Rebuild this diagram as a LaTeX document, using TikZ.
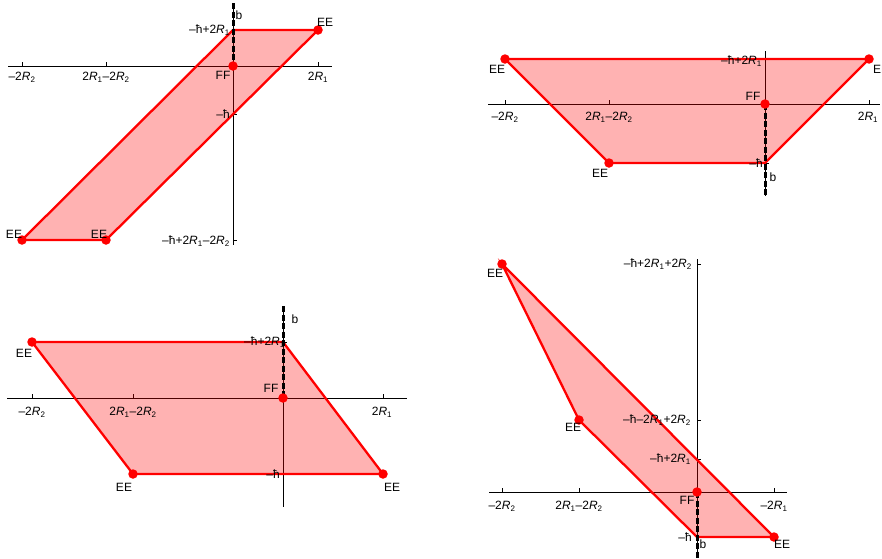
\documentclass[tikz,border=0pt]{standalone}
\usepackage{fontspec}
\setmainfont{Liberation Sans}
\usetikzlibrary{positioning}
\definecolor{clrEdge}{RGB}{255,0,0}
\newcommand{\rOne}{\textit{R}\textsubscript{1}}
\newcommand{\rTwo}{\textit{R}\textsubscript{2}}
\tikzset{
  axis/.style={line width=0.7pt,black},
  tickmark/.style={line width=0.6pt,black},
  region/.style={draw=clrEdge,line width=2.3pt,fill=clrEdge,fill opacity=0.3,line join=miter},
  bline/.style={line width=3pt,black,dash pattern=on 6pt off 2.5pt},
  vertex/.style={circle,fill=clrEdge,inner sep=0pt,minimum size=9.5pt},
  lbl/.style={font=\fontsize{12}{14}\selectfont,inner sep=0pt}
}
\begin{document}
\begin{tikzpicture}[x=1pt,y=-1pt]
  \useasboundingbox (0,0) rectangle (882,558);
  % panel 1 (top left)
  \coordinate (p1o) at (233,66);
  \coordinate (p1a) at (233,30);
  \coordinate (p1b) at (318,30);
  \coordinate (p1c) at (106,240);
  \coordinate (p1d) at (22,240);
  \coordinate (p1top) at (233,3);
  \draw[axis] (8,66) -- (332,66);
  \draw[axis] (p1top) -- (233,245);
  \foreach \x in {22,106,318} \draw[tickmark] (\x,66) -- ++(0,-4);
  \foreach \y in {30,114,240} \draw[tickmark] (233,\y) -- ++(4,0);
  \path[region] (p1a) -- (p1b) -- (p1c) -- (p1d) -- cycle;
  \draw[bline] (p1top) -- (p1o);
  \node[vertex] (p1ff) at (p1o) {};
  \node[vertex] (p1ee1) at (p1b) {};
  \node[vertex] (p1ee2) at (p1c) {};
  \node[vertex] (p1ee3) at (p1d) {};
  \node[lbl] (p1x1) at (22,77) {–2\rTwo};
  \node[lbl] (p1x2) at (106,77) {2\rOne–2\rTwo};
  \node[lbl] (p1x3) at (318,77) {2\rOne};
  \node[lbl,anchor=east] (p1y1) at (230,30) {–ħ+2\rOne};
  \node[lbl,anchor=east] (p1y2) at (230,114) {–ħ};
  \node[lbl,anchor=east] (p1y3) at (230,241) {–ħ+2\rOne–2\rTwo};
  \node[lbl] (p1l1) at (325,22) {EE};
  \node[lbl] (p1l2) at (99,234) {EE};
  \node[lbl] (p1l3) at (14,234) {EE};
  \node[lbl] (p1l4) at (223,75) {FF};
  \node[lbl] (p1l5) at (239,15) {b};
  % panel 2 (top right)
  \coordinate (p2o) at (765,104);
  \coordinate (p2a) at (505,59);
  \coordinate (p2b) at (869,59);
  \coordinate (p2c) at (765,163);
  \coordinate (p2d) at (609,163);
  \coordinate (p2bot) at (765,196);
  \draw[axis] (488,104) -- (880,104);
  \draw[axis] (765,51) -- (p2bot);
  \foreach \x in {505,609,869} \draw[tickmark] (\x,104) -- ++(0,-4);
  \foreach \y in {59,163} \draw[tickmark] (765,\y) -- ++(4,0);
  \path[region] (p2a) -- (p2b) -- (p2c) -- (p2d) -- cycle;
  \draw[bline] (p2o) -- (p2bot);
  \node[vertex] (p2ff) at (p2o) {};
  \node[vertex] (p2ee1) at (p2a) {};
  \node[vertex] (p2ee2) at (p2b) {};
  \node[vertex] (p2ee3) at (p2d) {};
  \node[lbl] (p2x1) at (505,117) {–2\rTwo};
  \node[lbl] (p2x2) at (609,117) {2\rOne–2\rTwo};
  \node[lbl] (p2x3) at (868,117) {2\rOne};
  \node[lbl,anchor=east] (p2y1) at (762,61) {–ħ+2\rOne};
  \node[lbl,anchor=east] (p2y2) at (763,163) {–ħ};
  \node[lbl] (p2l1) at (497,69) {EE};
  \node[lbl] (p2l2) at (881,69) {EE};
  \node[lbl] (p2l3) at (600,173) {EE};
  \node[lbl] (p2l4) at (753,96) {FF};
  \node[lbl] (p2l5) at (773,177) {b};
  % panel 3 (bottom left)
  \coordinate (p3o) at (283,398);
  \coordinate (p3a) at (32,342);
  \coordinate (p3b) at (283,342);
  \coordinate (p3c) at (383,474);
  \coordinate (p3d) at (133,474);
  \coordinate (p3top) at (283,306);
  \draw[axis] (7,398) -- (407,398);
  \draw[axis] (p3top) -- (283,507);
  \foreach \x in {32,133,383} \draw[tickmark] (\x,398) -- ++(0,-4);
  \foreach \y in {342,474} \draw[tickmark] (283,\y) -- ++(4,0);
  \path[region] (p3a) -- (p3b) -- (p3c) -- (p3d) -- cycle;
  \draw[bline] (p3top) -- (p3o);
  \node[vertex] (p3ff) at (p3o) {};
  \node[vertex] (p3ee1) at (p3a) {};
  \node[vertex] (p3ee2) at (p3c) {};
  \node[vertex] (p3ee3) at (p3d) {};
  \node[lbl] (p3x1) at (32,412) {–2\rTwo};
  \node[lbl] (p3x2) at (133,412) {2\rOne–2\rTwo};
  \node[lbl] (p3x3) at (382,412) {2\rOne};
  \node[lbl,anchor=east] (p3y1) at (285,342) {–ħ+2\rOne};
  \node[lbl,anchor=east] (p3y2) at (280,474) {–ħ};
  \node[lbl] (p3l1) at (24,353) {EE};
  \node[lbl] (p3l2) at (124,487) {EE};
  \node[lbl] (p3l3) at (392,487) {EE};
  \node[lbl] (p3l4) at (271,388) {FF};
  \node[lbl] (p3l5) at (295,319) {b};
  % panel 4 (bottom right)
  \coordinate (p4o) at (697,492);
  \coordinate (p4a) at (502,264);
  \coordinate (p4b) at (579,420);
  \coordinate (p4c) at (697,537);
  \coordinate (p4d) at (774,537);
  \coordinate (p4bot) at (697,558);
  \draw[axis] (489,492) -- (787,492);
  \draw[axis] (697,259) -- (p4bot);
  \foreach \x in {502,579,774} \draw[tickmark] (\x,492) -- ++(0,-4);
  \foreach \y in {264,420,459,537} \draw[tickmark] (697,\y) -- ++(4,0);
  \path[region] (p4a) -- (p4b) -- (p4c) -- (p4d) -- cycle;
  \draw[bline] (p4o) -- (p4bot);
  \node[vertex] (p4ff) at (p4o) {};
  \node[vertex] (p4ee1) at (p4a) {};
  \node[vertex] (p4ee2) at (p4b) {};
  \node[vertex] (p4ee3) at (p4d) {};
  \node[lbl] (p4x1) at (502,506) {–2\rTwo};
  \node[lbl] (p4x2) at (579,506) {2\rOne–2\rTwo};
  \node[lbl] (p4x3) at (774,506) {–2\rOne};
  \node[lbl,anchor=east] (p4y1) at (692,264) {–ħ+2\rOne+2\rTwo};
  \node[lbl,anchor=east] (p4y2) at (691,420) {–ħ–2\rOne+2\rTwo};
  \node[lbl,anchor=east] (p4y3) at (691,459) {–ħ+2\rOne};
  \node[lbl,anchor=east] (p4y4) at (692,537) {–ħ};
  \node[lbl] (p4l1) at (495,273) {EE};
  \node[lbl] (p4l2) at (573,427) {EE};
  \node[lbl] (p4l3) at (782,544) {EE};
  \node[lbl] (p4l4) at (687,500) {FF};
  \node[lbl] (p4l5) at (703,544) {b};
\end{tikzpicture}
\end{document}
